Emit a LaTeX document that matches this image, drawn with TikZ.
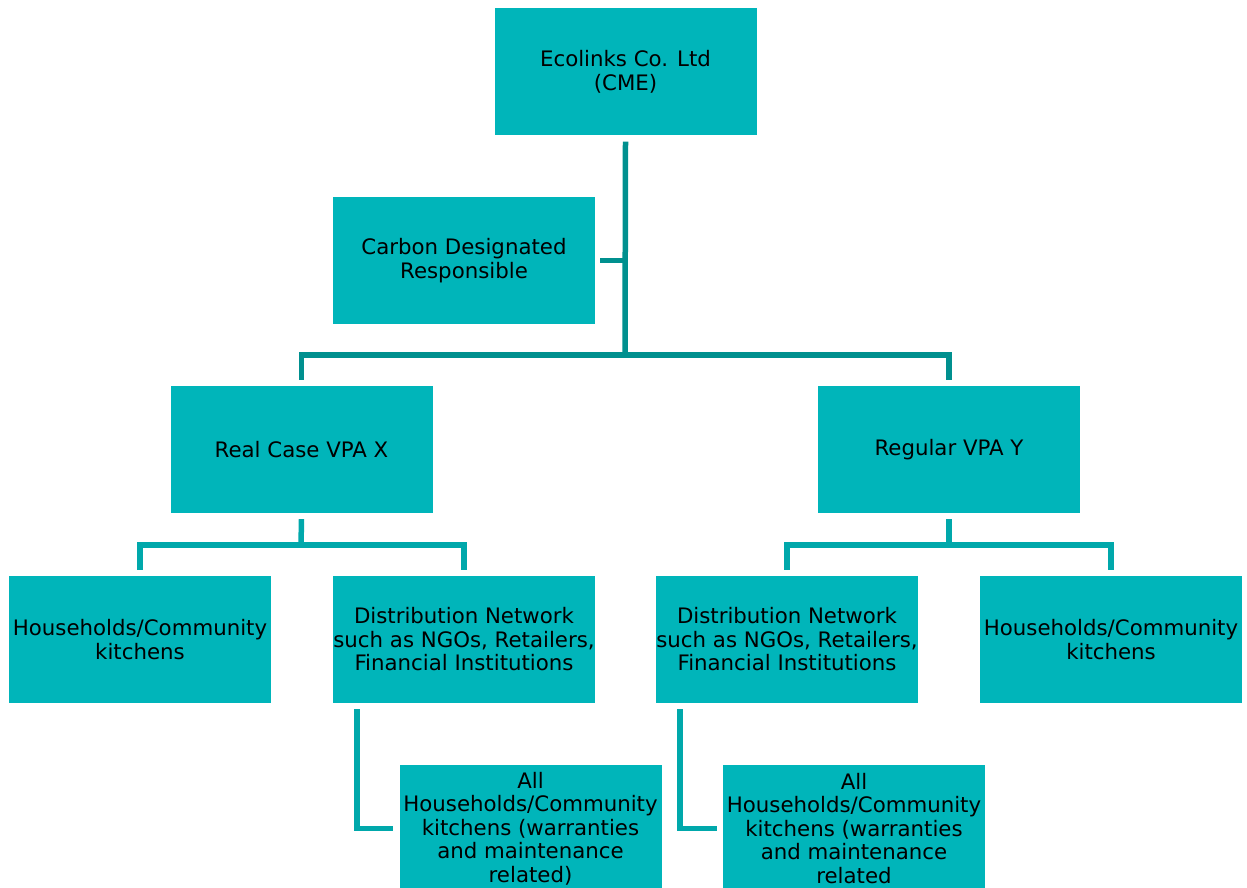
\documentclass[tikz,border=0pt]{standalone}
\usepackage{fontspec}
\setmainfont{DejaVu Sans}
\definecolor{boxc}{HTML}{00B5BA}
\definecolor{dkline}{HTML}{00908F}
\definecolor{ltline}{HTML}{00A8AB}
\begin{document}
\begin{tikzpicture}[x=1pt,y=-1pt,
  orgbox/.style={fill=boxc,draw=none,minimum width=262pt,minimum height=127pt,inner sep=0pt,align=center,
    font=\fontsize{21.3}{23.5}\selectfont},
  dk/.style={draw=dkline,line width=5.5pt},
  lt/.style={draw=ltline,line width=5.5pt}]
\useasboundingbox (0,0) rectangle (1247,888);
\clip (0,0) rectangle (1247,888);
\node[orgbox] (eco) at (625.5,72) {Ecolinks Co. Ltd\\(CME)};
\node[orgbox] (cdr) at (464,260.5) {Carbon Designated\\Responsible};
\node[orgbox] (rcx) at (301.5,449.5) {Real Case VPA X};
\node[orgbox] (rvy) at (949,449.5) {Regular VPA Y};
\node[orgbox] (hl) at (140,639.5) {Households/Community\\kitchens};
\node[orgbox] (dl) at (464,639.5) {Distribution Network\\such as NGOs, Retailers,\\Financial Institutions};
\node[orgbox] (dr) at (787,639.5) {Distribution Network\\such as NGOs, Retailers,\\Financial Institutions};
\node[orgbox] (hr) at (1111,639.5) {Households/Community\\kitchens};
\node[orgbox] (al) at (530.5,828.5) {All\\Households/Community\\kitchens (warranties\\and maintenance\\related)};
\node[orgbox] (ar) at (854,828.5) {All\\Households/Community\\kitchens (warranties\\and maintenance\\related};
\coordinate (j1) at (625,355);
\coordinate (j2) at (301,545);
\coordinate (j3) at (949,545);
% trunk
\draw[dk] ([yshift=-6pt]eco.south) -- (j1);
\draw[dk] ([xshift=5pt]cdr.east) -- (cdr.east -| j1);
\draw[dk] ([yshift=6pt]rcx.north) -- (rcx.north |- j1) -- (rvy.north |- j1) -- ([yshift=6pt]rvy.north);
% level 2
\draw[lt] ([yshift=-6pt]rcx.south) -- (j2);
\draw[lt] ([yshift=6pt]hl.north) -- (hl.north |- j2) -- (dl.north |- j2) -- ([yshift=6pt]dl.north);
\draw[lt] ([yshift=-6pt]rvy.south) -- (j3);
\draw[lt] ([yshift=6pt]dr.north) -- (dr.north |- j3) -- (hr.north |- j3) -- ([yshift=6pt]hr.north);
% level 3
\draw[lt] ([xshift=24pt,yshift=-6pt]dl.south west) -- ([xshift=24pt]dl.south west |- al.west) -- ([xshift=-6pt]al.west);
\draw[lt] ([xshift=24pt,yshift=-6pt]dr.south west) -- ([xshift=24pt]dr.south west |- ar.west) -- ([xshift=-6pt]ar.west);
\end{tikzpicture}
\end{document}
